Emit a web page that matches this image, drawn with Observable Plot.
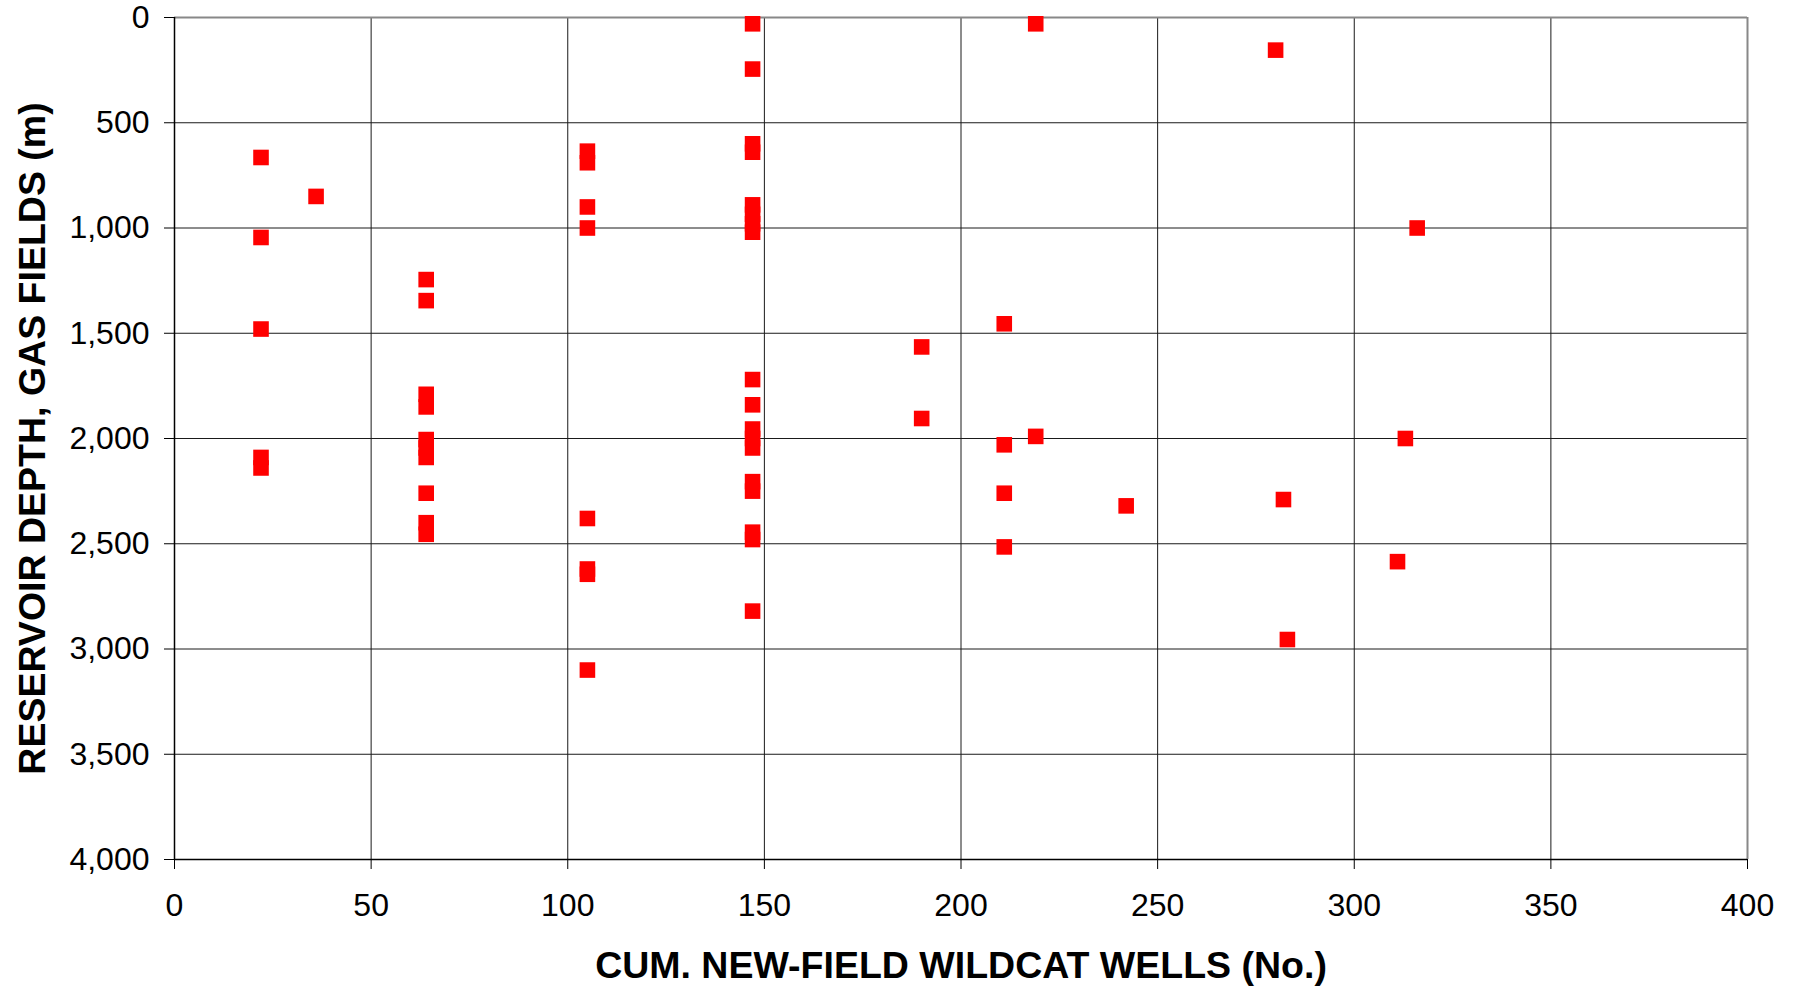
<!DOCTYPE html>
<html>
<head>
<meta charset="utf-8">
<script src="https://cdn.jsdelivr.net/npm/d3@7"></script>
<script src="https://cdn.jsdelivr.net/npm/@observablehq/plot@0.6"></script>
<style>
  html, body { margin: 0; padding: 0; background: #fff; }
</style>
</head>
<body>
<div id="chart"></div>
<script>
// Cumulative new-field wildcat wells (x) and reservoir depth of gas fields in metres (y)
const wells = [
  22, 22, 22, 22, 22,
  36,
  64, 64, 64, 64, 64, 64, 64, 64, 64, 64,
  105, 105, 105, 105, 105, 105, 105, 105,
  147, 147, 147, 147, 147, 147, 147, 147, 147, 147, 147, 147, 147, 147, 147, 147, 147, 147,
  190, 190,
  211, 211, 211, 211,
  219, 219,
  242,
  280, 282, 283,
  311, 313, 316
];
const depths = [
  665, 1045, 1480, 2090, 2140,
  850,
  1245, 1345, 1790, 1850, 2005, 2045, 2090, 2260, 2400, 2455,
  635, 690, 900, 1000, 2380, 2620, 2645, 3100,
  30, 245, 600, 640, 890, 935, 980, 1020, 1720, 1840, 1955, 2000, 2045, 2205, 2250, 2445, 2480, 2820,
  1565, 1905,
  1455, 2030, 2260, 2515,
  30, 1990,
  2320,
  155, 2290, 2955,
  2585, 2000, 1000
];
const xTicks = [0, 50, 100, 150, 200, 250, 300, 350, 400];
const yTicks = [0, 500, 1000, 1500, 2000, 2500, 3000, 3500, 4000];
const xTitle = "CUM. NEW-FIELD WILDCAT WELLS (No.)";
const yTitle = "RESERVOIR DEPTH, GAS FIELDS (m)";

const points = wells.map((w, i) => ({wells: w, depth: depths[i]}));

const font = "'Liberation Sans', Arial, Helvetica, sans-serif";

const chart = Plot.plot({
  width: 1795,
  height: 986,
  marginLeft: 174,
  marginRight: 48,
  marginTop: 17,
  marginBottom: 127,
  style: {fontFamily: font, fontSize: "32px", color: "#000", background: "#fff"},
  x: {domain: [0, 400]},
  y: {domain: [0, 4000], reverse: true},
  marks: [
    Plot.gridX(xTicks, {stroke: "#1a1a1a", strokeOpacity: 1, strokeWidth: 1}),
    Plot.gridY(yTicks, {stroke: "#1a1a1a", strokeOpacity: 1, strokeWidth: 1}),
    Plot.ruleY([0], {stroke: "#888", strokeWidth: 2}),
    Plot.ruleX([400], {stroke: "#888", strokeWidth: 2}),
    Plot.ruleX([0], {stroke: "#000", strokeWidth: 1.5}),
    Plot.ruleY([4000], {stroke: "#000", strokeWidth: 1.5}),
    Plot.axisX(xTicks, {tickSize: 10, tickPadding: 24, label: null, fontSize: 32, stroke: "#000"}),
    Plot.axisY(yTicks, {tickSize: 10, tickPadding: 15, label: null, fontSize: 32, tickFormat: d3.format(","), stroke: "#000"}),
    Plot.dot(points, {x: "wells", y: "depth", symbol: "square", r: 8.8, fill: "#ff0000", stroke: null}),
    Plot.text([xTitle], {text: d => d, frameAnchor: "bottom", dy: 106, textAnchor: "middle", lineAnchor: "middle", fontSize: 37.5, fontWeight: "bold", fill: "#000"}),
    Plot.text([yTitle], {text: d => d, frameAnchor: "left", dx: -141.5, rotate: -90, textAnchor: "middle", lineAnchor: "middle", fontSize: 37.5, fontWeight: "bold", fill: "#000"})
  ]
});
document.getElementById("chart").appendChild(chart);
</script>
</body>
</html>
